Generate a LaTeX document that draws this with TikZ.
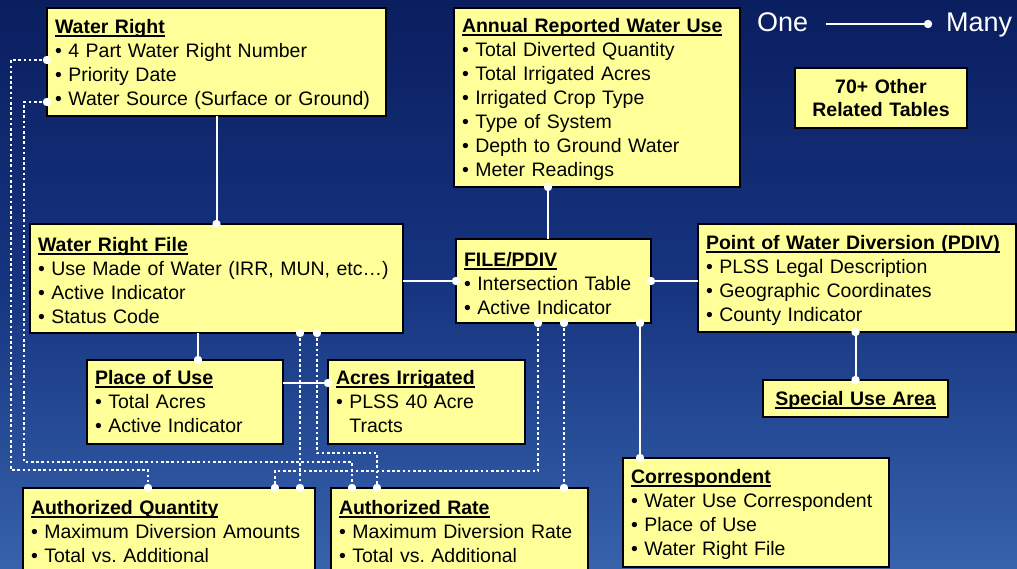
\documentclass[tikz,border=0pt]{standalone}
\usepackage{fontspec}
\setmainfont{Liberation Sans}
\usetikzlibrary{calc}
\frenchspacing
\definecolor{boxyellow}{RGB}{255,255,153}
\definecolor{bgtop}{RGB}{10,30,95}
\definecolor{bgmid}{RGB}{22,52,128}
\definecolor{bgbot}{RGB}{55,98,172}
\newcommand{\boxtitle}[1]{\leavevmode\sbox0{\bfseries #1}\rlap{\rule[-3.4pt]{\wd0}{2pt}}\usebox0}
\newcommand{\boxtitlelow}[1]{\leavevmode\rule{0pt}{19pt}\boxtitle{#1}}
\begin{document}
\begin{tikzpicture}[x=1pt,y=-1pt,
  tbl/.style={draw=black, line width=2pt, fill=boxyellow, anchor=north west, outer sep=0pt,
    inner xsep=8pt, inner ysep=0pt, align=left, text=black, font=\fontsize{19.5}{24}\selectfont},
  conn/.style={draw=white, line width=2pt},
  dotconn/.style={draw=white, line width=2.6pt, dash pattern=on 2.6pt off 2.6pt},
  enddot/.style={fill=white},
  legend/.style={anchor=base west, inner sep=0pt, text=white, font=\fontsize{27}{32}\selectfont}
]
\clip (0,0) rectangle (1017,569);
\shade[top color=bgtop, bottom color=bgbot, middle color=bgmid] (0,0) rectangle (1017,569);

% tables
\node[tbl, text width=323pt, minimum height=108pt] (wr) at (47,8)
  {\boxtitlelow{Water Right}\\• 4 Part Water Right Number\\• Priority Date\\• Water Source (Surface or Ground)};
\node[tbl, text width=270pt, minimum height=179pt] (arwu) at (454,8)
  {\boxtitlelow{Annual Reported Water Use}\\• Total Diverted Quantity\\• Total Irrigated Acres\\• Irrigated Crop Type\\• Type of System\\• Depth to Ground Water\\• Meter Readings};
\node[tbl, text width=156pt, minimum height=60pt, align=center, font=\fontsize{19.5}{23}\selectfont\bfseries] (other) at (795,68)
  {70+ Other\\Related Tables};
\node[tbl, text width=357pt, minimum height=109pt] (wrf) at (30,224)
  {\boxtitlelow{Water Right File}\\• Use Made of Water (IRR, MUN, etc…)\\• Active Indicator\\• Status Code};
\node[tbl, text width=179pt, minimum height=84pt] (fp) at (456,239)
  {\boxtitlelow{FILE/PDIV}\\• Intersection Table\\• Active Indicator};
\node[tbl, text width=302pt, minimum height=108pt] (pdiv) at (698,224)
  {\boxtitlelow{Point of Water Diversion (PDIV)}\\• PLSS Legal Description\\• Geographic Coordinates\\• County Indicator};
\node[tbl, text width=169pt, minimum height=37pt, align=center] (sua) at (763,380)
  {\boxtitlelow{Special Use Area}};
\node[tbl, text width=180pt, minimum height=84pt] (pou) at (87,360)
  {\boxtitle{Place of Use}\\• Total Acres\\• Active Indicator};
\node[tbl, text width=181pt, minimum height=84pt] (ai) at (328,360)
  {\boxtitle{Acres Irrigated}\\• PLSS 40 Acre\\\phantom{• }Tracts};
\node[tbl, text width=276pt, minimum height=88pt] (aq) at (23,488)
  {\boxtitle{Authorized Quantity}\\• Maximum Diversion Amounts\\• Total vs. Additional};
\node[tbl, text width=241pt, minimum height=88pt] (ar) at (331,488)
  {\boxtitle{Authorized Rate}\\• Maximum Diversion Rate\\• Total vs. Additional};
\node[tbl, text width=250pt, minimum height=109pt] (cor) at (623,458)
  {\boxtitlelow{Correspondent}\\• Water Use Correspondent\\• Place of Use\\• Water Right File};

% legend
\node[legend] (one) at (757,32) {One};
\node[legend] (many) at (946,32) {Many};
\coordinate (l1) at ($(one.base east)+(18,-8)$);
\coordinate (l2) at ($(many.base west)+(-18,-8)$);
\draw[conn] (l1) -- (l2);
\fill[enddot] (l2) circle (4.2pt);

% dotted connectors
\coordinate (d1s) at ($(wr.north west)+(0,52)$);
\coordinate (d1e) at ($(aq.north west)+(125,0)$);
\draw[dotconn] (d1s) -| (11,470) -| (d1e);
\coordinate (d2s) at ($(wr.north west)+(0,94)$);
\coordinate (d2e) at ($(ar.north west)+(21,0)$);
\draw[dotconn] (d2s) -| (24,462) -| (d2e);
\coordinate (d3s) at ($(wrf.south west)+(270,0)$);
\coordinate (d3e) at (aq.north -| d3s);
\draw[dotconn] (d3s) -- (d3e);
\coordinate (d4s) at ($(wrf.south west)+(287,0)$);
\coordinate (d4e) at ($(ar.north west)+(46,0)$);
\draw[dotconn] (d4s) -- ++(0,120) -| (d4e);
\coordinate (d5s) at ($(fp.south west)+(82,0)$);
\coordinate (d5e) at ($(aq.north west)+(252,0)$);
\draw[dotconn] (d5s) -- ++(0,148) -| (d5e);
\coordinate (d6s) at ($(fp.south west)+(108,0)$);
\coordinate (d6e) at (ar.north -| d6s);
\draw[dotconn] (d6s) -- (d6e);
\foreach \p in {d1s,d1e,d2s,d2e,d3s,d3e,d4s,d4e,d5s,d5e,d6s,d6e}
  \fill[enddot] (\p) circle (4.2pt);

% solid connectors
\draw[conn] (wr.south) -- (wrf.north);
\fill[enddot] (wrf.north) circle (4.2pt);
\draw[conn] (wrf.east |- fp.west) -- (fp.west);
\fill[enddot] (fp.west) circle (4.2pt);
\coordinate (p3) at ($(fp.north west)+(92,0)$);
\draw[conn] (p3) -- (arwu.south -| p3);
\fill[enddot] (arwu.south -| p3) circle (4.2pt);
\draw[conn] (fp.east) -- (pdiv.west |- fp.east);
\fill[enddot] (fp.east) circle (4.2pt);
\coordinate (p5) at ($(fp.south west)+(184,0)$);
\draw[conn] (p5) -- (cor.north -| p5);
\fill[enddot] (p5) circle (4.2pt);
\fill[enddot] (cor.north -| p5) circle (4.2pt);
\draw[conn] (pdiv.south -| sua.north) -- (sua.north);
\fill[enddot] (pdiv.south -| sua.north) circle (4.2pt);
\fill[enddot] (sua.north) circle (4.2pt);
\coordinate (p7) at ($(pou.north west)+(111,0)$);
\draw[conn] (wrf.south -| p7) -- (p7);
\fill[enddot] (p7) circle (4.2pt);
\coordinate (p8) at ($(ai.north west)+(0,23)$);
\draw[conn] (pou.east |- p8) -- (p8);
\fill[enddot] (p8) circle (4.2pt);
\end{tikzpicture}
\end{document}
